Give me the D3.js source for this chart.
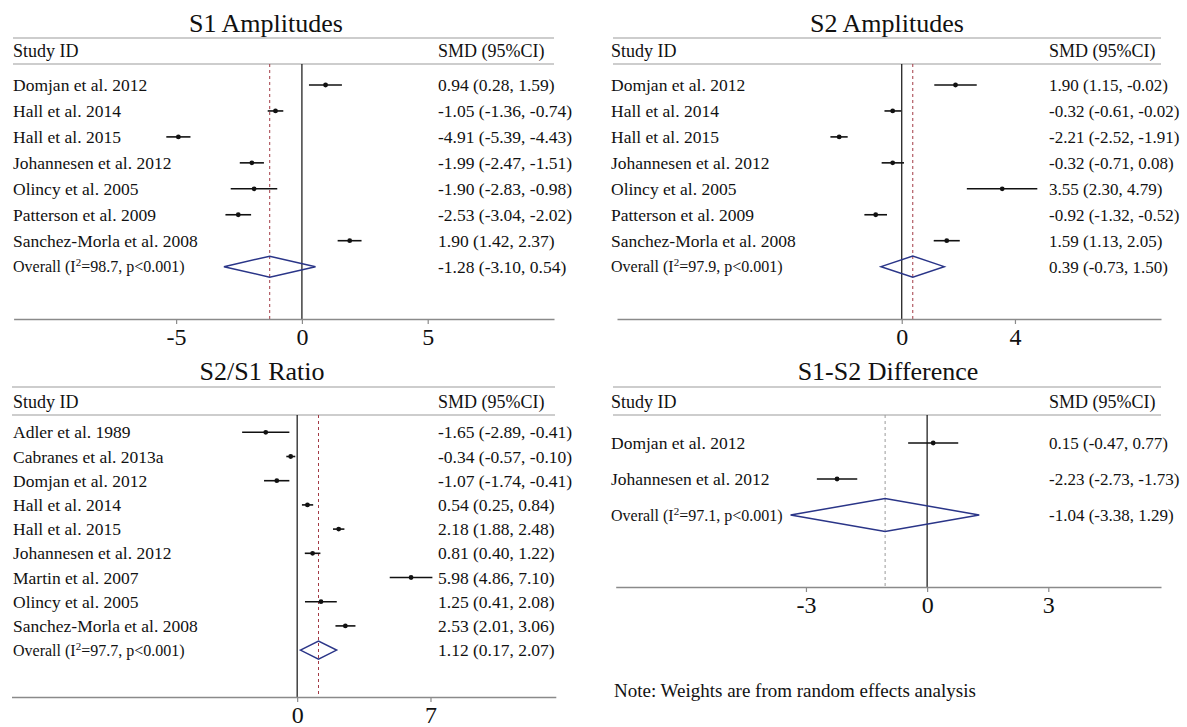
<!DOCTYPE html>
<html>
<head>
<meta charset="utf-8">
<script src="https://cdn.jsdelivr.net/npm/d3@7"></script>
<style>
body { margin: 0; background: #fff; }
text { font-family: "Liberation Serif", "Times New Roman", serif; fill: #111; }
</style>
</head>
<body>
<div id="chart"></div>
<script>
// S1 amplitudes
var s1Studies = ["Domjan et al. 2012", "Hall et al. 2014", "Hall et al. 2015", "Johannesen et al. 2012",
                 "Olincy et al. 2005", "Patterson et al. 2009", "Sanchez-Morla et al. 2008"];
var s1Smd   = [0.94, -1.05, -4.91, -1.99, -1.90, -2.53, 1.90];
var s1Lower = [0.28, -1.36, -5.39, -2.47, -2.83, -3.04, 1.42];
var s1Upper = [1.59, -0.74, -4.43, -1.51, -0.98, -2.02, 2.37];
var s1Overall = [-1.28, -3.10, 0.54];
var s1I2 = "98.7";
var s1Ticks = [-5, 0, 5];

// S2 amplitudes (Domjan upper limit is printed as -0.02 but drawn near 2.65)
var s2Studies = ["Domjan et al. 2012", "Hall et al. 2014", "Hall et al. 2015", "Johannesen et al. 2012",
                 "Olincy et al. 2005", "Patterson et al. 2009", "Sanchez-Morla et al. 2008"];
var s2Smd   = [1.90, -0.32, -2.21, -0.32, 3.55, -0.92, 1.59];
var s2Lower = [1.15, -0.61, -2.52, -0.71, 2.30, -1.32, 1.13];
var s2Upper = [2.65, -0.02, -1.91, 0.08, 4.79, -0.52, 2.05];
var s2UpperPrinted = [-0.02, -0.02, -1.91, 0.08, 4.79, -0.52, 2.05];
var s2Overall = [0.39, -0.73, 1.50];
var s2I2 = "97.9";
var s2Ticks = [0, 4];

// S2/S1 ratio
var ratioStudies = ["Adler et al. 1989", "Cabranes et al. 2013a", "Domjan et al. 2012", "Hall et al. 2014",
                    "Hall et al. 2015", "Johannesen et al. 2012", "Martin et al. 2007", "Olincy et al. 2005",
                    "Sanchez-Morla et al. 2008"];
var ratioSmd   = [-1.65, -0.34, -1.07, 0.54, 2.18, 0.81, 5.98, 1.25, 2.53];
var ratioLower = [-2.89, -0.57, -1.74, 0.25, 1.88, 0.40, 4.86, 0.41, 2.01];
var ratioUpper = [-0.41, -0.10, -0.41, 0.84, 2.48, 1.22, 7.10, 2.08, 3.06];
var ratioOverall = [1.12, 0.17, 2.07];
var ratioI2 = "97.7";
var ratioTicks = [0, 7];

// S1-S2 difference
var diffStudies = ["Domjan et al. 2012", "Johannesen et al. 2012"];
var diffSmd   = [0.15, -2.23];
var diffLower = [-0.47, -2.73];
var diffUpper = [0.77, -1.73];
var diffOverall = [-1.04, -3.38, 1.29];
var diffI2 = "97.1";
var diffTicks = [-3, 0, 3];

var W = 1187, H = 727;
var svg = d3.select("#chart").append("svg").attr("width", W).attr("height", H);
// plain hyphen for negatives, like the original
var f2 = function(v) { return v.toFixed(2); };

function drawPanel(p, d) {
	var g = svg.append("g");
	var x = d3.scaleLinear().domain(p.domain).range([p.axisL, p.axisR]);
	var rowY = function(i) { return p.rowY + i * p.rowStep; };
	var oy = rowY(d.studies.length);

	g.append("text").attr("x", p.titleX).attr("y", p.titleY)
		.attr("text-anchor", "middle").attr("font-size", 26).text(d.title);

	[p.topY, p.ruleY].forEach(function(y) {
		g.append("line").attr("x1", p.ruleL).attr("x2", p.ruleR).attr("y1", y).attr("y2", y)
			.attr("stroke", "#bdbdbd").attr("stroke-width", 1.5);
	});
	g.append("text").attr("x", p.labelX).attr("y", p.headY).attr("font-size", 18).text("Study ID");
	g.append("text").attr("x", p.valueX).attr("y", p.headY).attr("font-size", 18).text("SMD (95%CI)");

	// reference lines
	g.append("line").attr("x1", x(0)).attr("x2", x(0)).attr("y1", p.ruleY).attr("y2", p.axisY)
		.attr("stroke", "#111").attr("stroke-width", 1.2);
	g.append("line").attr("x1", x(d.overall[0])).attr("x2", x(d.overall[0]))
		.attr("y1", p.ruleY).attr("y2", p.axisY)
		.attr("stroke", p.dashColor).attr("stroke-width", 1).attr("stroke-dasharray", "3,3");

	var rows = d.studies.map(function(s, i) {
		var up = d.upperPrinted ? d.upperPrinted[i] : d.upper[i];
		return { name: s, est: d.smd[i], lo: d.lower[i], hi: d.upper[i],
			txt: f2(d.smd[i]) + " (" + f2(d.lower[i]) + ", " + f2(up) + ")" };
	});

	g.selectAll(".ci").data(rows).enter().append("line")
		.attr("x1", function(r) { return x(r.lo); })
		.attr("x2", function(r) { return x(r.hi); })
		.attr("y1", function(r, i) { return rowY(i); })
		.attr("y2", function(r, i) { return rowY(i); })
		.attr("stroke", "#111").attr("stroke-width", 1.6);
	g.selectAll(".pt").data(rows).enter().append("circle")
		.attr("cx", function(r) { return x(r.est); })
		.attr("cy", function(r, i) { return rowY(i); })
		.attr("r", 2.4).attr("fill", "#111");

	g.selectAll(".lab").data(rows).enter().append("text")
		.attr("x", p.labelX).attr("y", function(r, i) { return rowY(i); })
		.attr("dy", "0.35em").attr("font-size", 17.5)
		.text(function(r) { return r.name; });
	g.selectAll(".val").data(rows).enter().append("text")
		.attr("x", p.valueX).attr("y", function(r, i) { return rowY(i); })
		.attr("dy", "0.35em").attr("font-size", p.valueSize)
		.text(function(r) { return r.txt; });

	// pooled estimate
	var o = d.overall;
	g.append("path")
		.attr("d", "M" + x(o[1]) + "," + oy + "L" + x(o[0]) + "," + (oy - p.dh) +
			"L" + x(o[2]) + "," + oy + "L" + x(o[0]) + "," + (oy + p.dh) + "Z")
		.attr("fill", "none").attr("stroke", "#2a3588").attr("stroke-width", 1.5);
	var ot = g.append("text").attr("x", p.labelX).attr("y", oy).attr("dy", "0.35em").attr("font-size", 16);
	ot.append("tspan").text("Overall (I");
	ot.append("tspan").attr("dy", -6).attr("font-size", 11).text("2");
	ot.append("tspan").attr("dy", 6).text("=" + d.i2 + ", p<0.001)");
	g.append("text").attr("x", p.valueX).attr("y", oy).attr("dy", "0.35em").attr("font-size", p.valueSize)
		.text(f2(o[0]) + " (" + f2(o[1]) + ", " + f2(o[2]) + ")");

	var ax = g.append("g").attr("transform", "translate(0," + p.axisY + ")")
		.call(d3.axisBottom(x).tickValues(d.ticks).tickSize(5).tickSizeOuter(0).tickPadding(4)
			.tickFormat(function(v) { return String(v); }));
	ax.select(".domain").attr("stroke", "#8a8a8a").attr("stroke-width", 1.5);
	ax.selectAll(".tick line").attr("stroke", "#8a8a8a").attr("stroke-width", 1.2);
	ax.selectAll(".tick text").attr("font-size", 24);
}

var topRow = { titleY: 32, topY: 38, headY: 57, ruleY: 64, rowY: 85, rowStep: 25.95, axisY: 319, dh: 10.5 };
var botRow = { titleY: 380, topY: 387, headY: 408, ruleY: 415, axisY: 697 };

drawPanel(Object.assign({}, topRow, { titleX: 266, labelX: 13, valueX: 438, valueSize: 17.5, ruleL: 13, ruleR: 554,
	axisL: 13.6, axisR: 554, domain: [-11.46, 10.02], dashColor: "#a33a45" }),
	{ title: "S1 Amplitudes", studies: s1Studies, smd: s1Smd, lower: s1Lower, upper: s1Upper,
	  overall: s1Overall, i2: s1I2, ticks: s1Ticks });

drawPanel(Object.assign({}, topRow, { titleX: 887, labelX: 611, valueX: 1049, valueSize: 17, ruleL: 613, ruleR: 1161,
	axisL: 617, axisR: 1161, domain: [-10.06, 9.16], dashColor: "#a33a45" }),
	{ title: "S2 Amplitudes", studies: s2Studies, smd: s2Smd, lower: s2Lower, upper: s2Upper,
	  upperPrinted: s2UpperPrinted, overall: s2Overall, i2: s2I2, ticks: s2Ticks });

drawPanel(Object.assign({}, botRow, { titleX: 262, labelX: 13, valueX: 438, valueSize: 17.5, ruleL: 12, ruleR: 555,
	rowY: 432.3, rowStep: 24.2, dh: 9, axisL: 11.5, axisR: 555.8, domain: [-15.0, 13.58], dashColor: "#a33a45" }),
	{ title: "S2/S1 Ratio", studies: ratioStudies, smd: ratioSmd, lower: ratioLower, upper: ratioUpper,
	  overall: ratioOverall, i2: ratioI2, ticks: ratioTicks });

drawPanel(Object.assign({}, botRow, { titleX: 888, labelX: 611, valueX: 1049, valueSize: 17, ruleL: 613, ruleR: 1161,
	rowY: 443, rowStep: 36, dh: 16.5, axisY: 587, axisL: 615.7, axisR: 1161, domain: [-7.71, 5.79],
	dashColor: "#9a9a9a" }),
	{ title: "S1-S2 Difference", studies: diffStudies, smd: diffSmd, lower: diffLower, upper: diffUpper,
	  overall: diffOverall, i2: diffI2, ticks: diffTicks });

svg.append("text").attr("x", 614).attr("y", 697).attr("font-size", 19)
	.text("Note: Weights are from random effects analysis");
</script>
</body>
</html>
